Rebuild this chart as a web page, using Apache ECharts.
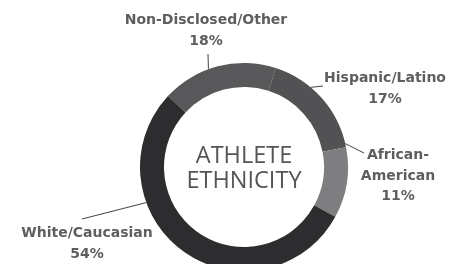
<!DOCTYPE html>
<html>
<head>
<meta charset="utf-8">
<script src="https://cdn.jsdelivr.net/npm/echarts@6/dist/echarts.min.js"></script>
<style>html,body{margin:0;padding:0;background:#fff}#c{width:462px;height:264px}</style>
</head>
<body>
<div id="c"></div>
<script>
const categories = ['Non-Disclosed/Other', 'Hispanic/Latino', 'African-\nAmerican', 'White/Caucasian'];
const values = [18, 17, 11, 54];
const colors = ['#58585a', '#525254', '#7e7e80', '#2d2d2f'];
const centerTitle = ['ATHLETE', 'ETHNICITY'];
// label box centres and label-line anchor angles (deg clockwise from top) / line end points
const labelSpots = [[206, 31], [385, 89], [398, 176], [87, 244]];
const lineAngles = [340, 40, 77, 250];
const lineEnds = [[208, 54], [323, 86], [364, 153], [82, 219]];

const CX = 244, CY = 167, R_IN = 80, R_OUT = 104;

const chart = echarts.init(document.getElementById('c'));
chart.setOption({
  backgroundColor: '#ffffff',
  animation: false,
  graphic: [{
    type: 'text', x: CX, y: CY + 2,
    style: {
      text: centerTitle.join('\n'), align: 'center', verticalAlign: 'middle',
      font: '23.5px "Open Sans"', fill: '#555557', lineHeight: 25
    }
  }],
  series: [{
    type: 'pie',
    center: [CX, CY],
    radius: [R_IN, R_OUT],
    startAngle: 137,
    clockwise: true,
    silent: true,
    data: categories.map((n, i) => ({ name: n, value: values[i], itemStyle: { color: colors[i] } })),
    label: {
      show: true,
      formatter: p => p.name + '\n' + p.value + '%',
      color: '#5e5e60',
      fontFamily: 'DejaVu Sans',
      fontWeight: 'bold',
      fontSize: 14,
      lineHeight: 20.5,
      align: 'center',
      overflow: 'none',
      width: 200
    },
    labelLine: { show: true, length: 8, length2: 8, lineStyle: { color: '#444', width: 1 } },
    labelLayout: function (p) {
      const i = p.dataIndex;
      const s = labelSpots[i];
      const a = lineAngles[i] * Math.PI / 180;
      const start = [CX + R_OUT * Math.sin(a), CY - R_OUT * Math.cos(a)];
      return {
        x: s[0], y: s[1], align: 'center', verticalAlign: 'middle',
        labelLinePoints: [start, lineEnds[i], lineEnds[i]]
      };
    }
  }]
});
</script>
</body>
</html>
